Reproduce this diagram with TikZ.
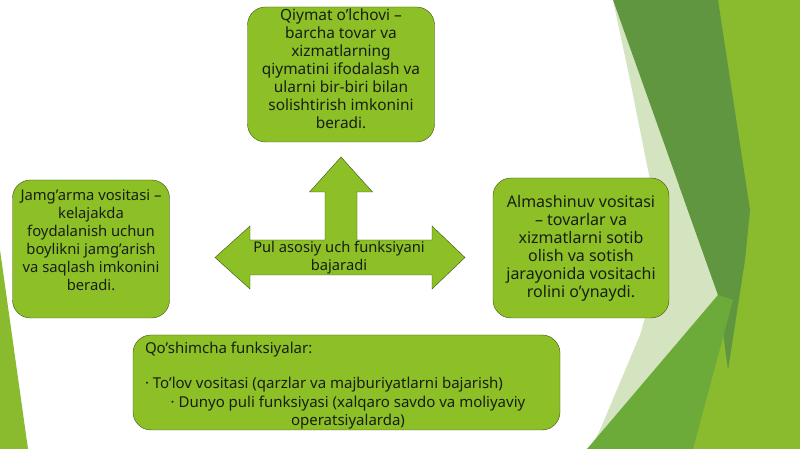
\documentclass[tikz,border=0pt]{standalone}
\usepackage{fontspec}
\setmainfont{Noto Sans}
\usetikzlibrary{arrows}
\usetikzlibrary{shapes}
\definecolor{boxfill}{RGB}{140,192,38}
\definecolor{boxline}{RGB}{62,82,22}
\definecolor{leaf}{RGB}{138,186,46}
\definecolor{leafdark}{RGB}{96,150,64}
\definecolor{leafmid}{RGB}{108,170,58}
\definecolor{leafpale}{RGB}{212,228,192}
\definecolor{ink}{RGB}{25,30,20}
\tikzstyle{fnbox} = [rectangle, rounded corners=18pt, align=center, draw=boxline, fill=boxfill, text=ink, inner sep=0pt, font=\fontsize{16}{18}\selectfont]
\tikzstyle{fntext} = [inner sep=0pt, text=ink, font=\fontsize{15}{18}\selectfont]
\tikzstyle{fnarrow} = [draw=boxline, fill=boxfill, line join=miter]

\begin{document}
\begin{tikzpicture}[x=1pt, y=1pt]
\useasboundingbox (0,0) rectangle (800,449);
\fill[white] (0,0) rectangle (800,449);

% slide background
\fill[leaf] (0,199) -- (28,0) -- (0,0) -- cycle;
\fill[leaf] (700,449) -- (800,449) -- (800,0) -- (650,0) -- cycle;
\fill[leafpale] (613,449) -- (718,154) -- (590,0) -- (600,19) -- (640,114) -- (665,199) -- (648,279) -- (630,369) -- cycle;
\fill[leafdark] (613,449) -- (718,449) -- (750,239) -- (745,189) -- (728,79) -- (718,154) -- cycle;
\fill[leafmid] (587,0) -- (718,154) -- (733,149) -- (693,0) -- cycle;

% three-way arrow
\coordinate (mid) at (341,191.5);
\begin{scope}[shift={(mid)}]
\draw [fnarrow] (-126,0) -- (-91,31.5) -- (-91,17.5) -- (-16,17.5) -- (-16,65.5) -- (-31.5,65.5) -- (0,100.5) -- (31.5,65.5) -- (16,65.5) -- (16,17.5) -- (91,17.5) -- (91,31.5) -- (124,0) -- (91,-31.5) -- (91,-17.5) -- (-91,-17.5) -- (-91,-31.5) -- cycle;
\end{scope}
\node [fntext, align=center, font=\fontsize{14.7}{18}\selectfont, xshift=-2pt] (core) at (mid) {Pul asosiy uch funksiyani\\bajaradi};

\node [fnbox, minimum width=187pt, minimum height=135pt, node distance=183pt, above of=core, xshift=2pt, font=\fontsize{15.4}{18}\selectfont] (measure) {Qiymat o’lchovi –\\barcha tovar va\\xizmatlarning\\qiymatini ifodalash va\\ularni bir-biri bilan\\solishtirish imkonini\\beradi.\\[-6pt]\mbox{}};
\node [fnbox, minimum width=157pt, minimum height=138pt, node distance=250pt, left of=core, xshift=2pt, yshift=8.5pt, font=\fontsize{14.8}{18}\selectfont] (saving) {Jamg’arma vositasi –\\kelajakda\\foydalanish uchun\\boylikni jamg’arish\\va saqlash imkonini\\beradi.\\[0pt]\mbox{}};
\node [fnbox, minimum width=176pt, minimum height=140pt, node distance=240pt, right of=core, xshift=2pt, yshift=9.5pt] (exchange) {Almashinuv vositasi\\– tovarlar va\\xizmatlarni sotib\\olish va sotish\\jarayonida vositachi\\rolini o’ynaydi.};
\node [fnbox, minimum width=427pt, minimum height=95pt, node distance=125pt, below of=core, xshift=7.5pt] (extra) {};

\node [fntext, anchor=west] (extrahead) at ([xshift=12pt, yshift=-15pt]extra.north west) {Qo’shimcha funksiyalar:};
\node [fntext, anchor=west] (payment) at ([xshift=12pt, yshift=-50pt]extra.north west) {· To’lov vositasi (qarzlar va majburiyatlarni bajarish)};
\node [fntext, align=center] (worldmoney) at ([xshift=1.5pt, yshift=18pt]extra.south) {· Dunyo puli funksiyasi (xalqaro savdo va moliyaviy\\operatsiyalarda)};

\end{tikzpicture}
\end{document}
